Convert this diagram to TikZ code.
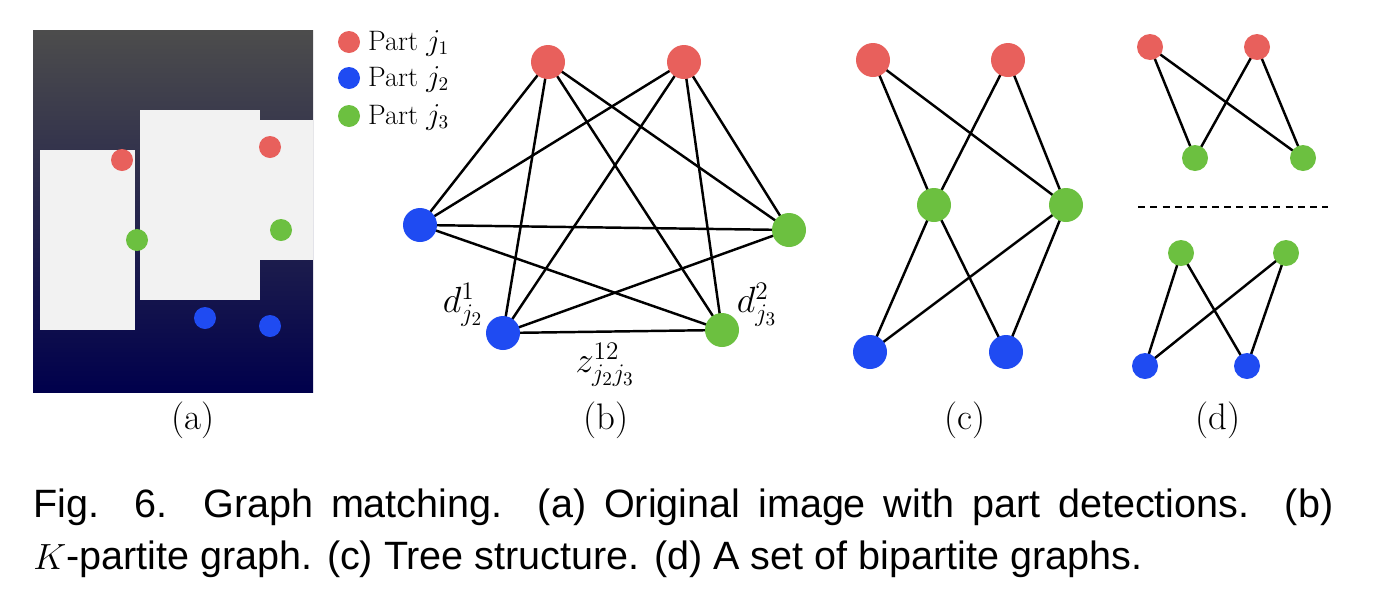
\documentclass[tikz,border=0pt]{standalone}
\usepackage{fontspec}
\newfontfamily\capfont{Liberation Sans}
\begin{document}
\begin{tikzpicture}[x=0.02cm,y=-0.02cm,
 R/.style={circle,fill=myred,inner sep=0pt},
 B/.style={circle,fill=myblue,inner sep=0pt},
 G/.style={circle,fill=mygreen,inner sep=0pt},
 big/.style={minimum size=34*0.02cm},
 mid/.style={minimum size=26*0.02cm},
 sm/.style={minimum size=22*0.02cm},
 e/.style={line width=1.4pt},
 lab/.style={font=\fontsize{21}{24}\selectfont},
 leg/.style={font=\fontsize{16}{18}\selectfont,anchor=west}]
\definecolor{myred}{HTML}{E8605C}
\definecolor{myblue}{HTML}{1F4BF2}
\definecolor{mygreen}{HTML}{6CC040}
\useasboundingbox (0,0) rectangle (1376,599);
% (a) photo placeholder
\shade[top color=gray!60!black,bottom color=blue!30!black] (33,30) rectangle (313,392);
\fill[white!90!gray] (40,150) rectangle (135,330);
\fill[white!90!gray] (140,110) rectangle (260,300);
\fill[white!90!gray] (255,120) rectangle (313,260);
\node[R,sm] (pa1) at (122,160) {};
\node[R,sm] (pa2) at (270,147) {};
\node[G,sm] (pa3) at (137,240) {};
\node[G,sm] (pa4) at (281,230) {};
\node[B,sm] (pa5) at (205,318) {};
\node[B,sm] (pa6) at (270,326) {};
% legend
\node[R,sm] (l1) at (349,42) {};
\node[B,sm] (l2) at (349,78) {};
\node[G,sm] (l3) at (349,116) {};
\node[leg] at (362,43) {Part $j_1$};
\node[leg] at (362,79) {Part $j_2$};
\node[leg] at (362,117) {Part $j_3$};
% (b)
\coordinate (r1) at (548,62); \coordinate (r2) at (684,62);
\coordinate (b1) at (420,225); \coordinate (g1) at (789,230);
\coordinate (b2) at (503,333); \coordinate (g2) at (722,330);
\foreach \a/\b in {r1/b1,r1/b2,r1/g1,r1/g2,r2/b1,r2/b2,r2/g1,r2/g2,b1/g1,b1/g2,b2/g1,b2/g2}
  \draw[e] (\a) -- (\b);
\node[R,big] (nr1) at (r1) {}; \node[R,big] (nr2) at (r2) {};
\node[B,big] (nb1) at (b1) {}; \node[G,big] (ng1) at (g1) {};
\node[B,big] (nb2) at (b2) {}; \node[G,big] (ng2) at (g2) {};
\node[lab] at (463,305) {$d^1_{j_2}$};
\node[lab] at (757,305) {$d^2_{j_3}$};
\node[lab] at (605,365) {$z^{12}_{j_2j_3}$};
% (c)
\coordinate (cr1) at (873,60); \coordinate (cr2) at (1008,60);
\coordinate (cg1) at (934,205); \coordinate (cg2) at (1066,205);
\coordinate (cb1) at (870,352); \coordinate (cb2) at (1006,352);
\foreach \a/\b in {cr1/cg1,cr1/cg2,cr2/cg1,cr2/cg2,cg1/cb1,cg1/cb2,cg2/cb1,cg2/cb2}
  \draw[e] (\a) -- (\b);
\node[R,big] (ncr1) at (cr1) {}; \node[R,big] (ncr2) at (cr2) {};
\node[G,big] (ncg1) at (cg1) {}; \node[G,big] (ncg2) at (cg2) {};
\node[B,big] (ncb1) at (cb1) {}; \node[B,big] (ncb2) at (cb2) {};
% (d)
\coordinate (dr1) at (1150,47); \coordinate (dr2) at (1257,47);
\coordinate (dg1) at (1195,158); \coordinate (dg2) at (1303,158);
\coordinate (eg1) at (1181,253); \coordinate (eg2) at (1286,253);
\coordinate (eb1) at (1145,366); \coordinate (eb2) at (1247,366);
\foreach \a/\b in {dr1/dg1,dr1/dg2,dr2/dg1,dr2/dg2,eg1/eb1,eg1/eb2,eg2/eb1,eg2/eb2}
  \draw[e] (\a) -- (\b);
\node[R,mid] (ndr1) at (dr1) {}; \node[R,mid] (ndr2) at (dr2) {};
\node[G,mid] (ndg1) at (dg1) {}; \node[G,mid] (ndg2) at (dg2) {};
\node[G,mid] (neg1) at (eg1) {}; \node[G,mid] (neg2) at (eg2) {};
\node[B,mid] (neb1) at (eb1) {}; \node[B,mid] (neb2) at (eb2) {};
\coordinate (dl) at (1138,207); \coordinate (dr) at (1328,207);
\draw[line width=1.2pt,dash pattern=on 4pt off 3pt] (dl) -- (dr);
% subfigure labels
\node[lab] at (193,420) {(a)};
\node[lab] at (606,420) {(b)};
\node[lab] at (965,420) {(c)};
\node[lab] at (1218,420) {(d)};
% caption
\node[anchor=north west,align=justify,text width=1300*0.02cm,inner sep=0pt,
  font=\capfont\fontsize{22.5}{30}\selectfont] at (33,488)
 {Fig. 6. Graph matching. (a) Original image with part detections. (b)\linebreak $K$-partite graph. (c) Tree structure. (d) A set of bipartite graphs.};
\end{tikzpicture}
\end{document}
